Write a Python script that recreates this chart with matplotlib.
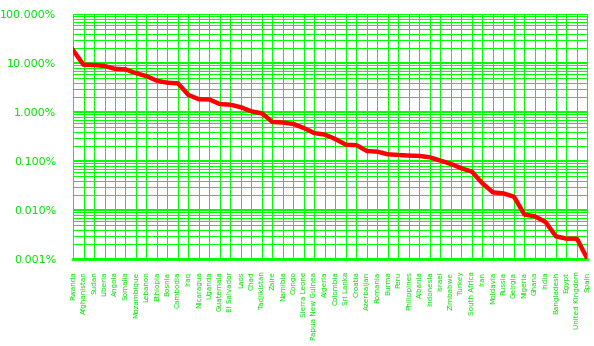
import matplotlib
matplotlib.use("Agg")
import matplotlib.pyplot as plt
from matplotlib.ticker import FixedLocator, LogLocator, NullFormatter

countries = ["Rwanda", "Afghanistan", "Sudan", "Liberia", "Angola", "Somalia",
             "Mozambique", "Lebanon", "Ethiopia", "Bosnia", "Cambodia", "Iraq",
             "Nicaragua", "Uganda", "Guatemala", "El Salvador", "Laos", "Chad",
             "Tadjikistan", "Zaire", "Namibia", "Congo", "Sierra Leone",
             "Papua New Guinea", "Algeria", "Colombia", "Sri Lanka", "Croatia",
             "Azerbaijan", "Romania", "Burma", "Peru", "Philippines", "Albania",
             "Indonesia", "Israel", "Zimbabwe", "Turkey", "South Africa", "Iran",
             "Moldavia", "Russia", "Geirgia", "Nigeria", "Ghana", "India",
             "Bangladesh", "Egypt", "United Kingdom", "Spain"]

# percent values
pct = [18.4, 9.2, 9.1, 8.7, 7.6, 7.4,
       6.2, 5.4, 4.35, 3.96, 3.85, 2.22,
       1.82, 1.80, 1.45, 1.41, 1.25, 1.03,
       0.94, 0.625, 0.61, 0.57, 0.47,
       0.37, 0.345, 0.28, 0.215, 0.21,
       0.16, 0.155, 0.137, 0.133, 0.129, 0.127,
       0.119, 0.102, 0.087, 0.071, 0.0606, 0.0349,
       0.0229, 0.0218, 0.0187, 0.0081, 0.0074, 0.0057,
       0.0029, 0.0026, 0.0026, 0.001]

ytick_vals = [0.001, 0.01, 0.1, 1, 10, 100]
ytick_labels = ["0.001%", "0.010%", "0.100%", "1.000%", "10.000%", "100.000%"]

green = "#00ff00"
text_green = "#00e000"

fig = plt.figure(figsize=(5.94, 3.46), dpi=100)
ax = fig.add_axes([0.1229, 0.2514, 0.8661, 0.7081])

x = list(range(len(countries)))
ax.plot(x, pct, color="red", linewidth=3.2, zorder=3)

ax.set_yscale("log")
ax.set_ylim(0.001, 100)
ax.set_xlim(0, len(countries) - 1)

ax.yaxis.set_major_locator(FixedLocator(ytick_vals))
ax.set_yticklabels(ytick_labels)
ax.yaxis.set_minor_locator(LogLocator(base=10, subs=range(2, 10)))
ax.yaxis.set_minor_formatter(NullFormatter())

ax.set_xticks(x)
ax.set_xticklabels(countries, rotation=90, va="top", ha="center")

ax.grid(which="major", axis="y", color=green, linewidth=1.44, antialiased=False)
ax.grid(which="minor", axis="y", color=green, linewidth=0.72, antialiased=False)
ax.grid(which="major", axis="x", color=green, linewidth=0.72, antialiased=False)
ax.set_axisbelow(True)

for side in ["left", "right", "top"]:
    ax.spines[side].set_color(green)
    ax.spines[side].set_linewidth(0.72)
ax.spines["bottom"].set_color(green)
ax.spines["bottom"].set_linewidth(2)

ax.tick_params(axis="x", length=0, pad=9, labelsize=5.2, labelcolor=text_green)
ax.tick_params(axis="y", which="both", length=0, pad=12, labelsize=8, labelcolor=text_green)

fig.savefig("out.png", dpi=100)
